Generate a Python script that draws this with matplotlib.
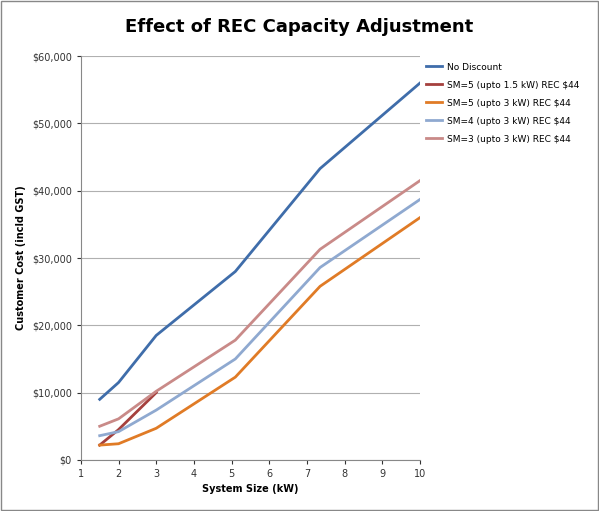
import matplotlib.pyplot as plt
from matplotlib.ticker import FuncFormatter

sizes = [1.5, 2, 3, 5.1, 7.35, 10]
no_discount = [9000, 11500, 18500, 28000, 43300, 56000]
sm5_15_sizes = [1.5, 2, 3]
sm5_15 = [2200, 4500, 10000]
sm5_3 = [2200, 2400, 4700, 12300, 25800, 36000]
sm4_3 = [3600, 4200, 7400, 15000, 28600, 38700]
sm3_3 = [5000, 6100, 10200, 17800, 31300, 41500]

fig = plt.figure(figsize=(5.99, 5.11), dpi=100)
ax = fig.add_axes([0.135, 0.10, 0.566, 0.79])
fig.patches.append(plt.Rectangle((0.002, 0.002), 0.996, 0.996, transform=fig.transFigure,
                                 fill=False, edgecolor='#888888', lw=1))

ax.plot(sizes, no_discount, color='#3F6DAA', lw=2, label='No Discount')
ax.plot(sm5_15_sizes, sm5_15, color='#A5403D', lw=2, label='SM=5 (upto 1.5 kW) REC $44')
ax.plot(sizes, sm5_3, color='#E07B26', lw=2, label='SM=5 (upto 3 kW) REC $44')
ax.plot(sizes, sm4_3, color='#8FA9D0', lw=2, label='SM=4 (upto 3 kW) REC $44')
ax.plot(sizes, sm3_3, color='#C98A88', lw=2, label='SM=3 (upto 3 kW) REC $44')

ax.set_xlim(1, 10)
ax.set_ylim(0, 60000)
ax.set_xticks(range(1, 11))
ax.set_yticks(range(0, 60001, 10000))
ax.yaxis.set_major_formatter(FuncFormatter(lambda v, p: '${:,.0f}'.format(v)))
ax.grid(axis='y', color='#B0B0B0', lw=0.8)
ax.set_axisbelow(True)
for s in ['top', 'right']:
    ax.spines[s].set_visible(False)
for s in ['left', 'bottom']:
    ax.spines[s].set_color('#888888')
ax.tick_params(labelsize=7, colors='#333333', direction='out', length=3)
ax.set_xlabel('System Size (kW)', fontsize=7, fontweight='bold')
ax.set_ylabel('Customer Cost (incld GST)', fontsize=7, fontweight='bold')
fig.suptitle('Effect of REC Capacity Adjustment', fontsize=13, fontweight='bold', y=0.965)

ax.legend(loc='upper left', bbox_to_anchor=(1.0, 1.0), frameon=False, fontsize=6.5,
          handlelength=1.8, handletextpad=0.5, borderaxespad=0.3, labelspacing=1.0)

fig.savefig('out.png', dpi=100)
